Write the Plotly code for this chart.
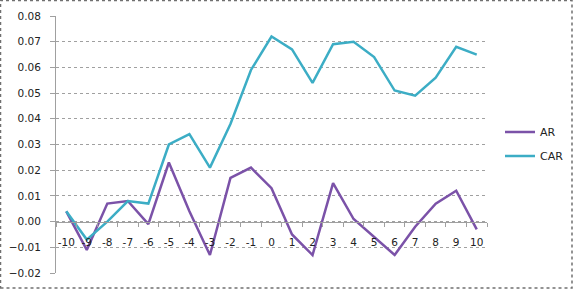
import plotly.graph_objects as go

days = ["-10","-9","-8","-7","-6","-5","-4","-3","-2","-1","0","1","2","3","4","5","6","7","8","9","10"]
ar = [0.004,-0.011,0.007,0.008,-0.001,0.023,0.004,-0.013,0.017,0.021,0.013,-0.005,-0.013,0.015,0.001,-0.006,-0.013,-0.002,0.007,0.012,-0.003]
car = [0.004,-0.007,0.000,0.008,0.007,0.030,0.034,0.021,0.038,0.059,0.072,0.067,0.054,0.069,0.070,0.064,0.051,0.049,0.056,0.068,0.065]
y_ticks = [-0.02,-0.01,0.00,0.01,0.02,0.03,0.04,0.05,0.06,0.07,0.08]

W, H = 573, 289
L, R, T, B = 56, 86, 16, 16
pw = W - L - R
ph = H - T - B

fig = go.Figure()
fig.add_trace(go.Scatter(x=days, y=ar, mode="lines", name="AR", legend="legend",
                         line=dict(color="#7B52A8", width=2.5)))
fig.add_trace(go.Scatter(x=days, y=car, mode="lines", name="CAR", legend="legend2",
                         line=dict(color="#3CADC5", width=2.5)))

leg_common = dict(xanchor="left", yanchor="middle", font=dict(size=11),
                  itemwidth=30, bgcolor="rgba(0,0,0,0)")

fig.update_layout(
    width=W, height=H,
    margin=dict(l=L, r=R, t=T, b=B, autoexpand=False),
    paper_bgcolor="white", plot_bgcolor="white",
    font=dict(family="DejaVu Sans", size=10, color="#222222"),
    showlegend=True,
    legend=dict(x=1.0 + 13/pw, y=(H - B - 132) / ph, **leg_common),
    legend2=dict(x=1.0 + 13/pw, y=(H - B - 156) / ph, **leg_common),
    xaxis=dict(type="category", anchor="free", position=0.2,
               showline=True, linecolor="#A0A0A0", linewidth=1,
               ticks="outside", ticklen=4, tickcolor="#A0A0A0", tickson="boundaries",
               showgrid=False, zeroline=False, range=[-0.5, 20.5],
               tickangle=0, tickfont=dict(size=10.5), ticklabelstandoff=11),
    yaxis=dict(range=[-0.02, 0.08], tickvals=y_ticks, tickformat=".2f",
               showline=True, linecolor="#A0A0A0", linewidth=1,
               ticks="outside", ticklen=5, tickcolor="#A0A0A0",
               showgrid=True, gridcolor="#A0A0A0", griddash="dot", gridwidth=1,
               zeroline=False, tickfont=dict(size=10.5), ticklabelstandoff=7),
)

fig.add_shape(type="rect", xref="paper", yref="paper",
              x0=(0.5 - L) / pw, x1=(W - 1.0 - L) / pw,
              y0=-(B - 1.0) / ph,
              y1=1 + (T - 0.5) / ph,
              line=dict(color="#707070", width=1.5, dash="dot"))

fig.write_html("out.html")
